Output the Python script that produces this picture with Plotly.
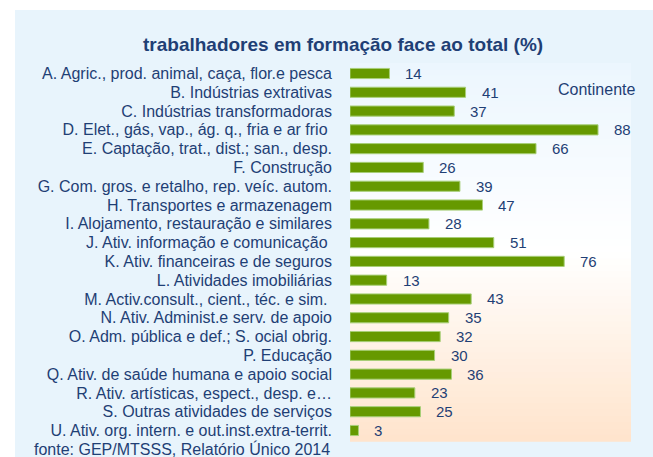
import plotly.graph_objects as go

categories = [
    "A. Agric., prod. animal, caça, flor.e pesca",
    "B. Indústrias extrativas",
    "C. Indústrias transformadoras",
    "D. Elet., gás, vap., ág. q., fria e ar frio\u00a0",
    "E. Captação, trat., dist.; san., desp.",
    "F. Construção",
    "G. Com. gros. e retalho, rep. veíc. autom.",
    "H. Transportes e armazenagem",
    "I. Alojamento, restauração e similares",
    "J. Ativ. informação e comunicação\u00a0",
    "K. Ativ. financeiras e de seguros",
    "L. Atividades imobiliárias",
    "M. Activ.consult., cient., téc. e sim.\u00a0",
    "N. Ativ. Administ.e serv. de apoio",
    "O. Adm. pública e def.; S. ocial obrig.",
    "P. Educação",
    "Q. Ativ. de saúde humana e apoio social",
    "R. Ativ. artísticas, espect., desp. e…",
    "S. Outras atividades de serviços",
    "U. Ativ. org. intern. e out.inst.extra-territ.",
]
values = [14, 41, 37, 88, 66, 26, 39, 47, 28, 51, 76, 13, 43, 35, 32, 30, 36, 23, 25, 3]

title_text = "trabalhadores em formação face ao total (%)"
source_text = "fonte: GEP/MTSSS, Relatório Único 2014"
legend_text = "Continente"

TXT = "#1F3F75"
FONT = "Liberation Sans, Arial, sans-serif"

W, H = 653, 457
L, R, T, B = 350, 22, 63, 16
pw, ph = W - L - R, H - T - B

def px2x(px):
    return (px - L) / pw

def py2y(py):
    return (H - B - py) / ph

fig = go.Figure()
fig.add_trace(go.Bar(
    x=values, y=categories, orientation="h",
    marker=dict(color="#669900", line=dict(color="#A8CF78", width=1)),
    hoverinfo="x+y",
))

annotations = []
for c, v in zip(categories, values):
    annotations.append(dict(x=v, y=c, xref="x", yref="y", text=str(v),
                            showarrow=False, xanchor="left", xshift=14, yshift=0,
                            font=dict(size=15, color=TXT, family=FONT)))
annotations.append(dict(x=px2x(637), y=py2y(89), xref="paper", yref="paper",
                        text=legend_text, showarrow=False, xanchor="right", yanchor="middle",
                        font=dict(size=16, color=TXT, family=FONT)))
annotations.append(dict(x=px2x(332), y=py2y(449), xref="paper", yref="paper",
                        text=source_text, showarrow=False, xanchor="right", yanchor="middle",
                        font=dict(size=16, color=TXT, family=FONT)))
annotations.append(dict(x=px2x(343), y=py2y(44), xref="paper", yref="paper",
                        text="<b>" + title_text + "</b>", showarrow=False, xanchor="center", yanchor="middle",
                        font=dict(size=19, color=TXT, family=FONT)))

shapes = [dict(type="rect", xref="paper", yref="paper",
               x0=px2x(15), x1=px2x(W + 5), y0=py2y(H + 5), y1=py2y(10),
               fillcolor="#E8F4FC", line=dict(width=0), layer="below")]

# vertical gradient for the plot area: light blue -> white -> peach
def lerp(c1, c2, t):
    return tuple(round(a + (b - a) * t) for a, b in zip(c1, c2))

top_c = (236, 246, 254)
mid_c = (255, 255, 255)
bot_c = (255, 228, 204)
n = 60
for i in range(n):
    f0 = i / n
    f1 = (i + 1) / n
    fm = (f0 + f1) / 2  # fraction from top
    if fm < 0.5:
        col = lerp(top_c, mid_c, fm / 0.5)
    else:
        col = lerp(mid_c, bot_c, (fm - 0.5) / 0.5)
    shapes.append(dict(type="rect", xref="paper", yref="paper",
                       x0=0, x1=1, y0=1 - f1 - 0.002, y1=1 - f0,
                       fillcolor="rgb(%d,%d,%d)" % col, line=dict(width=0), layer="below"))

fig.update_layout(
    width=W, height=H,
    margin=dict(l=L, r=R, t=T, b=B, autoexpand=False),
    paper_bgcolor="white", plot_bgcolor="rgba(0,0,0,0)",
    showlegend=False,
    bargap=0.46,
    annotations=annotations,
    shapes=shapes,
    font=dict(family=FONT, color=TXT),
    xaxis=dict(range=[0, 99.7], visible=False, showgrid=False, zeroline=False),
    yaxis=dict(autorange="reversed", showgrid=False, zeroline=False, showline=False,
               ticks="", ticklabelstandoff=17,
               tickmode="array", tickvals=categories, ticktext=categories,
               tickfont=dict(size=16, color=TXT, family=FONT)),
)

fig.write_html("out.html", config={"displayModeBar": False},
               post_script="document.body.style.margin='0';document.body.style.overflow='hidden';")
